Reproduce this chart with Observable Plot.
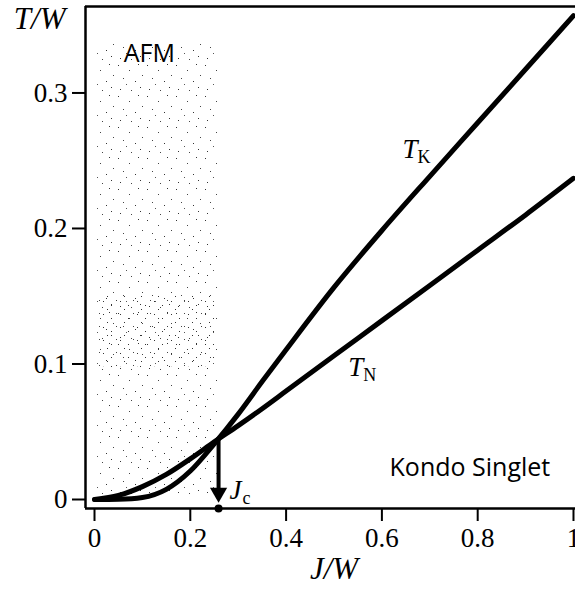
<!DOCTYPE html>
<html><head><meta charset="utf-8">
<script src="https://cdn.jsdelivr.net/npm/d3@7"></script>
<script src="https://cdn.jsdelivr.net/npm/@observablehq/plot@0.6"></script>
<style>body{margin:0;background:#fff}</style>
</head><body><div id="chart"></div>
<script>
// Coupling J/W values and the two temperature scales
const J  = [0, 0.05, 0.1, 0.15, 0.2, 0.25, 0.3, 0.35, 0.4, 0.5, 0.6, 0.7, 0.8, 0.9, 1.0];
const TK = [0, 0.0002, 0.0015, 0.0075, 0.021, 0.041, 0.063, 0.087, 0.1105, 0.1565, 0.1985, 0.2385, 0.278, 0.3175, 0.357];
const TN = [0, 0.003, 0.0095, 0.0185, 0.030, 0.0425, 0.0545, 0.067, 0.080, 0.106, 0.132, 0.158, 0.184, 0.210, 0.237];

const xTicks = [0, 0.2, 0.4, 0.6, 0.8, 1];
const xTickLabels = ["0", "0.2", "0.4", "0.6", "0.8", "1"];
const yTicks = [0, 0.1, 0.2, 0.3];
const yTickLabels = ["0", "0.1", "0.2", "0.3"];
const xDomain = [-0.0188, 1.0042];
const yDomain = [-0.00664, 0.3638];

// critical coupling and crossing temperature
const Jc = 0.259;
const Tc = 0.0445;

// AFM stippled region and its denser band
const afmRegion = [{J1: 0.006, J2: 0.257, T1: 0.001, T2: 0.336}];
const afmDense  = [{J1: 0.006, J2: 0.257, T1: 0.098, T2: 0.152}];

const regionLabels = [
  {J: 0.061, T: 0.3225, text: "AFM"},
  {J: 0.616, T: 0.017, text: "Kondo Singlet"}
];
const curveLabels = [
  {J: 0.643, T: 0.252, main: "T", sub: "K"},
  {J: 0.530, T: 0.0915, main: "T", sub: "N"},
  {J: 0.282, T: 0.0007, main: "J", sub: "c"}
];
const axisLabels = [{J: 0.5, text: "J/W"}];

const tk = J.map((j, i) => ({J: j, T: TK[i]}));
const tn = J.map((j, i) => ({J: j, T: TN[i]}));

const serif = "'Liberation Serif', 'Times New Roman', serif";
const sans = "'Open Sans', 'Noto Sans', sans-serif";

const plot = Plot.plot({
  width: 575, height: 590,
  marginLeft: 85, marginRight: 0, marginTop: 6, marginBottom: 82,
  style: {fontFamily: serif, fontSize: "27px", background: "#fff", overflow: "visible", color: "#000"},
  x: {domain: xDomain},
  y: {domain: yDomain},
  marks: [
    Plot.rect(afmRegion, {x1: "J1", x2: "J2", y1: "T1", y2: "T2", fill: "url(#afm)"}),
    Plot.rect(afmDense, {x1: "J1", x2: "J2", y1: "T1", y2: "T2", fill: "url(#afm2)"}),
    Plot.axisX({ticks: xTicks, tickFormat: d => xTickLabels[xTicks.indexOf(d)], tickSize: 13, tickPadding: 6, strokeWidth: 2, label: null, fontSize: 27, fontFamily: serif}),
    Plot.axisY({ticks: yTicks, tickFormat: d => yTickLabels[yTicks.indexOf(d)], tickSize: 13, tickPadding: 5, strokeWidth: 2, label: null, fontSize: 27, fontFamily: serif}),
    Plot.ruleX([xDomain[0]], {strokeWidth: 2.5, stroke: "black"}),
    Plot.ruleY(yDomain, {strokeWidth: 2.5, stroke: "black"}),
    Plot.line(tn, {x: "J", y: "T", curve: "monotone-x", stroke: "black", strokeWidth: 5}),
    Plot.line(tk, {x: "J", y: "T", curve: "monotone-x", stroke: "black", strokeWidth: 5}),
    Plot.ruleX([{J: Jc, T1: Tc, T2: 0.008}], {x: "J", y1: "T1", y2: "T2", stroke: "black", strokeWidth: 4}),
    Plot.dot([{J: Jc, T: 0.005}], {x: "J", y: "T", symbol: "triangle", r: 6.4, rotate: 180, fill: "black", stroke: null}),
    Plot.dot([{J: Jc, T: yDomain[0]}], {x: "J", y: "T", r: 4, fill: "black", stroke: null}),
    Plot.text(regionLabels, {x: "J", y: "T", text: "text", textAnchor: "start", lineAnchor: "bottom", fontFamily: sans, fontSize: 25, fill: "black"}),
    Plot.text(curveLabels, {x: "J", y: "T", text: "main", textAnchor: "start", lineAnchor: "bottom", fontStyle: "italic", fontSize: 27, fontFamily: serif}),
    Plot.text(curveLabels.filter(d => d.main === "T"), {x: "J", y: "T", text: "sub", dx: 15, dy: 5, textAnchor: "start", lineAnchor: "bottom", fontSize: 18, fontFamily: serif}),
    Plot.text(curveLabels.filter(d => d.main === "J"), {x: "J", y: "T", text: "sub", dx: 13, dy: 5, textAnchor: "start", lineAnchor: "bottom", fontSize: 18, fontFamily: serif}),
    Plot.text(["T/W"], {frameAnchor: "top-left", dx: -20, dy: 22, textAnchor: "end", lineAnchor: "bottom", fontStyle: "italic", fontSize: 31, fontFamily: serif}),
    Plot.text(axisLabels, {x: "J", text: "text", frameAnchor: "bottom", dy: 70, lineAnchor: "bottom", fontStyle: "italic", fontSize: 31, fontFamily: serif})
  ]
});

d3.select(plot).insert("defs", ":first-child").html(`
  <pattern id="afm" width="29" height="31" patternUnits="userSpaceOnUse">
    <rect x="2" y="3" width="1" height="1" fill="#333"/>
    <rect x="13" y="8" width="1" height="1" fill="#444"/>
    <rect x="22" y="2" width="1" height="1" fill="#333"/>
    <rect x="7" y="16" width="1" height="1" fill="#444"/>
    <rect x="19" y="19" width="1" height="1" fill="#333"/>
    <rect x="26" y="13" width="1" height="1" fill="#444"/>
    <rect x="4" y="27" width="1" height="1" fill="#333"/>
    <rect x="15" y="28" width="1" height="1" fill="#444"/>
    <rect x="24" y="25" width="1" height="1" fill="#333"/>
    <rect x="10" y="22" width="1" height="1" fill="#555"/>
  </pattern>
  <pattern id="afm2" width="17" height="13" patternUnits="userSpaceOnUse">
    <rect x="1" y="2" width="1" height="1" fill="#333"/>
    <rect x="9" y="6" width="1" height="1" fill="#333"/>
    <rect x="14" y="1" width="1" height="1" fill="#444"/>
    <rect x="5" y="10" width="1" height="1" fill="#333"/>
  </pattern>`);

document.getElementById("chart").appendChild(plot);
</script>
</body></html>
